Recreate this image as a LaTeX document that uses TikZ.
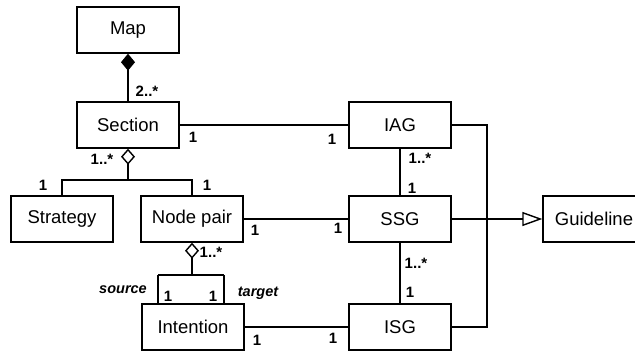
\documentclass[tikz,border=0pt]{standalone}
\usepackage{fontspec}
\setmainfont{Liberation Sans}
\usetikzlibrary{arrows.meta}
\begin{document}
\begin{tikzpicture}[x=1pt,y=-1pt,line width=1.4pt,
  cls/.style={draw,minimum width=102pt,minimum height=46pt,inner sep=0pt,font=\fontsize{18.5}{20}\selectfont},
  mult/.style={inner sep=0pt,font=\fontsize{15}{16}\selectfont\bfseries},
  role/.style={inner sep=0pt,font=\fontsize{14.5}{16}\selectfont\bfseries\itshape},
  comp/.style={{Diamond[length=17pt,width=14pt]}-},
  aggr/.style={{Diamond[open,length=16pt,width=14pt]}-},
  gen/.style={-{Triangle[open,length=20pt,width=14pt]}}]
\useasboundingbox (0,0) rectangle (635,354);
\begin{scope}
\clip (0,0) rectangle (635,354);
\node[cls] (map) at (128,30) {Map};
\node[cls] (sec) at (128,125) {Section};
\node[cls] (strat) at (62,219) {Strategy};
\node[cls] (np) at (192,219) {Node pair};
\node[cls] (int) at (193,327) {Intention};
\node[cls] (iag) at (400,125) {IAG};
\node[cls] (ssg) at (400,219) {SSG};
\node[cls] (isg) at (400,327) {ISG};
\node[cls] (guide) at (594,219) {Guideline};
\end{scope}
\coordinate (j1) at (128,180);
\coordinate (j2) at (192,275);
\coordinate (src) at (158,275);
\coordinate (tgt) at (224,275);
\coordinate (bus) at (487,219);
% connectors
\draw[comp] (map.south) -- (sec.north);
\draw (sec.east) -- (iag.west);
\draw[aggr] (sec.south) -- (j1);
\draw (strat.north) |- (j1) -| (np.north);
\draw (np.east) -- (ssg.west);
\draw[aggr] (np.south) -- (j2);
\draw (src) -- (tgt);
\draw (src) -- (src |- int.north);
\draw (tgt) -- (tgt |- int.north);
\draw (int.east) -- (isg.west);
\draw (iag.south) -- (ssg.north);
\draw (ssg.south) -- (isg.north);
\draw (iag.east) -| (bus);
\draw (isg.east) -| (bus);
\draw (ssg.east) -- (bus);
\draw[gen] (bus) -- (guide.west);
% labels
\node[mult] (l1) at (147,91) {2..*};
\node[mult] (l2) at (193,137) {1};
\node[mult] (l3) at (332,139) {1};
\node[mult] (l4) at (102,159) {1..*};
\node[mult] (l5) at (43,185) {1};
\node[mult] (l6) at (207,185) {1};
\node[mult] (l7) at (255,230) {1};
\node[mult] (l8) at (338,228) {1};
\node[mult] (l9) at (211,252) {1..*};
\node[role] (l10) at (123,290) {source};
\node[mult] (l11) at (168,296) {1};
\node[mult] (l12) at (213,296) {1};
\node[role] (l13) at (258,293) {target};
\node[mult] (l14) at (257,340) {1};
\node[mult] (l15) at (333,338) {1};
\node[mult] (l16) at (420,158) {1..*};
\node[mult] (l17) at (412,188) {1};
\node[mult] (l18) at (416,263) {1..*};
\node[mult] (l19) at (410,292) {1};
\end{tikzpicture}
\end{document}
